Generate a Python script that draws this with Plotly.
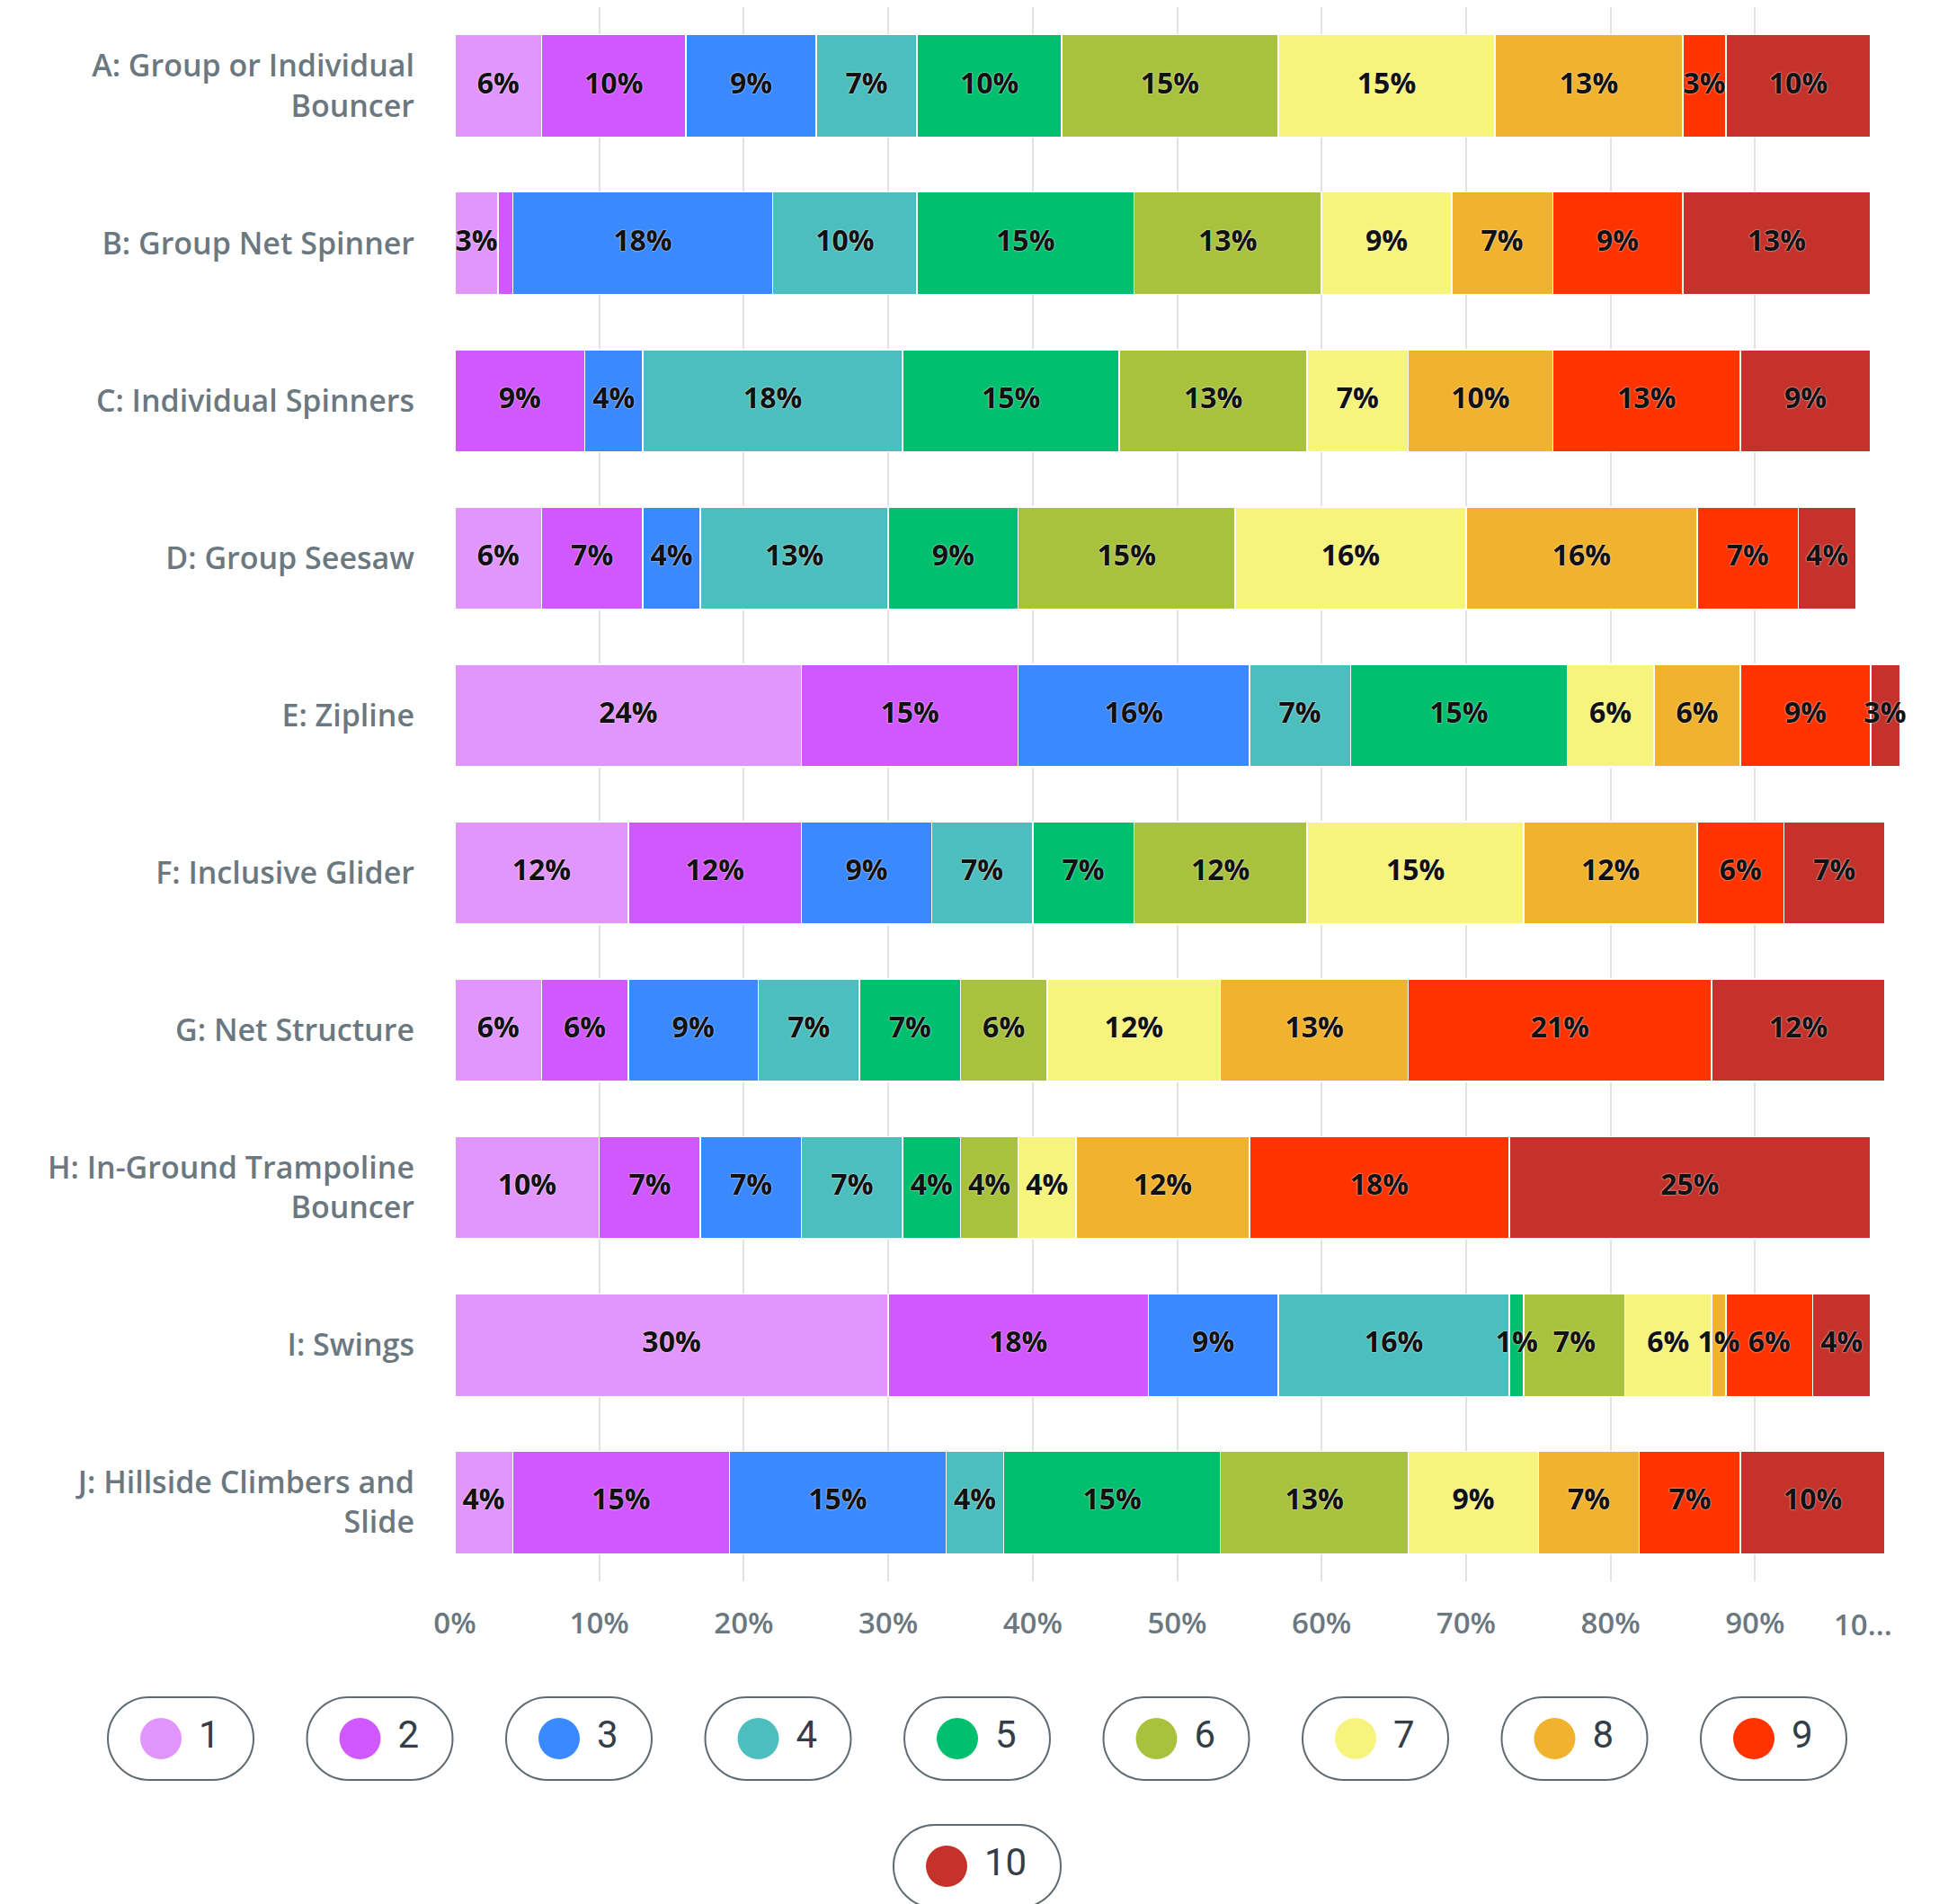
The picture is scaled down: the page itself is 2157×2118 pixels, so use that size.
import plotly.graph_objects as go

# rows of the stacked bars, top to bottom
categories = [
    "A: Group or Individual<br>Bouncer",
    "B: Group Net Spinner",
    "C: Individual Spinners",
    "D: Group Seesaw",
    "E: Zipline",
    "F: Inclusive Glider",
    "G: Net Structure",
    "H: In-Ground Trampoline<br>Bouncer",
    "I: Swings",
    "J: Hillside Climbers and<br>Slide",
]
ratings = ["1", "2", "3", "4", "5", "6", "7", "8", "9", "10"]
colors = ["#E295FC", "#D157FF", "#3B89FF", "#4CBEBE", "#00BF6F",
          "#A9C23E", "#F7F47E", "#F1B22E", "#FF3300", "#C4322B"]

# percent of answers per rating 1..10
row_a = [6, 10, 9, 7, 10, 15, 15, 13, 3, 10]
row_b = [3, 1, 18, 10, 15, 13, 9, 7, 9, 13]
row_c = [0, 9, 4, 18, 15, 13, 7, 10, 13, 9]
row_d = [6, 7, 4, 13, 9, 15, 16, 16, 7, 4]
row_e = [24, 15, 16, 7, 15, 0, 6, 6, 9, 3]
row_f = [12, 12, 9, 7, 7, 12, 15, 12, 6, 7]
row_g = [6, 6, 9, 7, 7, 6, 12, 13, 21, 12]
row_h = [10, 7, 7, 7, 4, 4, 4, 12, 18, 25]
row_i = [30, 18, 9, 16, 1, 7, 6, 1, 6, 4]
row_j = [4, 15, 15, 4, 15, 13, 9, 7, 7, 10]
rows = [row_a, row_b, row_c, row_d, row_e, row_f, row_g, row_h, row_i, row_j]

# labels that the original chart leaves out (row index, rating index)
hidden_labels = [(1, 1)]

tick_vals = [0, 10, 20, 30, 40, 50, 60, 70, 80, 90, 100]
tick_text = ["0%", "10%", "20%", "30%", "40%", "50%", "60%", "70%", "80%", "90%", ""]
# the last tick label is cut short in the original and sits left of its tick
last_tick_text = "10..."

# page body adds an 8px margin, so the figure is made that much smaller
OFF = 8
W, H = 2157 - OFF, 2118 - OFF
FONT = "Open Sans"
GREY = "#6B787F"
X_MAX = 100

fig = go.Figure()

for k, rating in enumerate(ratings):
    xs = [row[k] if row[k] > 0 else None for row in rows]
    fig.add_trace(go.Bar(
        y=categories, x=xs, orientation="h", name=rating,
        marker=dict(color=colors[k], line=dict(color="white", width=1.5)),
        hoverinfo="skip",
    ))

# value labels on top of all segments so neighbours don't cover them
lab_x, lab_y, lab_t = [], [], []
for r, row in enumerate(rows):
    start = 0
    for k, v in enumerate(row):
        if v > 0 and (r, k) not in hidden_labels:
            lab_x.append((start + min(start + v, X_MAX)) / 2)
            lab_y.append(categories[r])
            lab_t.append(f"{v}%")
        start += v
fig.add_trace(go.Scatter(
    x=lab_x, y=lab_y, text=lab_t, mode="text", cliponaxis=False,
    textfont=dict(family=FONT, size=32, color="#111111", weight=700,
                  shadow="0px 0px 2px white"),
    hoverinfo="skip", showlegend=False,
))

# legend drawn as pills on a separate axis
n_first = 9
pitch = 221.5
x_first = 201 - OFF
leg_dom = 0.16
leg_h = leg_dom * H
row_pitch = 142
row0_px = 184
lx, ly, ltxt = [], [], []
shapes = []
for k, rating in enumerate(ratings):
    col = k if k < n_first else 4
    row = 0 if k < n_first else -1
    pill_w = 138 + 24 * len(rating)
    left = col - pill_w / 2 / pitch
    lx.append(left + 59 / pitch)
    ly.append(row)
    ltxt.append(rating)
    hw, r = pill_w / 2, 46
    c = 0.5523 * r
    path = (f"M{-hw + r},{-r} L{hw - r},{-r} "
            f"C{hw - r + c},{-r} {hw},{-c} {hw},0 "
            f"C{hw},{c} {hw - r + c},{r} {hw - r},{r} "
            f"L{-hw + r},{r} "
            f"C{-hw + r - c},{r} {-hw},{c} {-hw},0 "
            f"C{-hw},{-c} {-hw + r - c},{-r} {-hw + r},{-r} Z")
    shapes.append(dict(type="path", xref="x2", yref="y2",
                       xsizemode="pixel", ysizemode="pixel",
                       xanchor=col, yanchor=row, path=path,
                       line=dict(color="#5F6B73", width=2), fillcolor="rgba(0,0,0,0)"))

fig.add_trace(go.Scatter(
    x=lx, y=ly, mode="markers", xaxis="x2", yaxis="y2",
    marker=dict(size=46, color=colors, line=dict(width=0)),
    hoverinfo="skip", showlegend=False,
))
fig.add_trace(go.Scatter(
    x=[x + 42 / pitch for x in lx], y=ly, text=ltxt, mode="text",
    textposition="middle right", xaxis="x2", yaxis="y2",
    textfont=dict(family="Roboto", size=42, color="#333E48"),
    hoverinfo="skip", showlegend=False,
))

y2_lo = -row0_px / row_pitch
y2_hi = y2_lo + leg_h / row_pitch

tick_font = dict(family=FONT, size=33, color=GREY, weight=600)

fig.update_layout(
    width=W, height=H,
    barmode="stack", bargap=0.35,
    showlegend=False,
    paper_bgcolor="white", plot_bgcolor="white",
    margin=dict(l=0, r=0, t=0, b=0, autoexpand=False),
    font=dict(family=FONT, color=GREY),
    xaxis=dict(
        domain=[(506 - OFF) / W, (2113 - OFF) / W], range=[0, X_MAX],
        tickvals=tick_vals, ticktext=tick_text,
        showgrid=True, gridcolor="#E2E2E2", gridwidth=2,
        zeroline=False, showline=False, ticks="", automargin=False,
        tickfont=tick_font, ticklabelstandoff=24,
    ),
    yaxis=dict(
        domain=[(H - (1759 - OFF)) / H, 1],
        autorange="reversed", showgrid=False, zeroline=False, ticks="",
        automargin=False,
        tickfont=dict(family=FONT, size=34, color=GREY, weight=600),
        ticklabelstandoff=44,
    ),
    xaxis2=dict(domain=[0, 1], anchor="y2",
                range=[-x_first / pitch, (W - x_first) / pitch],
                visible=False, fixedrange=True, automargin=False),
    yaxis2=dict(domain=[0, leg_dom], anchor="x2", range=[y2_lo, y2_hi],
                visible=False, fixedrange=True, automargin=False),
    shapes=shapes,
    annotations=[dict(
        x=X_MAX, xref="x", y=0, yref="y domain",
        xanchor="right", yanchor="middle", xshift=-6, yshift=-47,
        text=last_tick_text, showarrow=False, font=tick_font,
    )],
)

fig.write_html("out.html")
